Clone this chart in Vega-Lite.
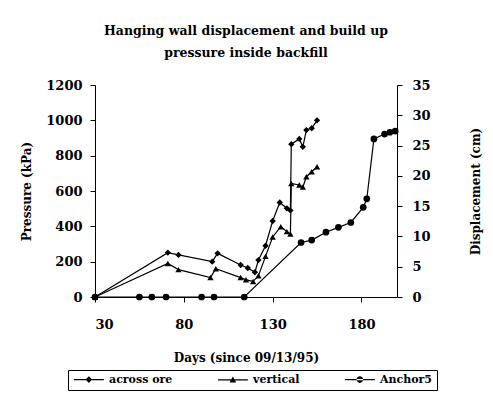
{
  "$schema": "https://vega.github.io/schema/vega-lite/v6.json",
  "width": 302,
  "height": 212,
  "autosize": {"type": "none"},
  "padding": {"left": 95, "top": 85, "right": 96, "bottom": 113},
  "background": "white",
  "config": {
    "view": {"stroke": null},
    "font": "DejaVu Serif",
    "axis": {
      "grid": false,
      "domainColor": "black",
      "tickColor": "black",
      "labelColor": "black",
      "titleColor": "black",
      "labelFont": "DejaVu Serif",
      "titleFont": "DejaVu Serif",
      "labelFontWeight": "bold",
      "titleFontWeight": "bold",
      "labelFontSize": 13,
      "titleFontSize": 12,
      "tickSize": 5,
      "format": "d"
    },
    "legend": {
      "labelFont": "DejaVu Serif",
      "labelFontWeight": "bold",
      "labelFontSize": 11,
      "labelColor": "black"
    }
  },
  "title": {
    "text": ["Hanging wall displacement and build up", "pressure inside backfill"],
    "font": "DejaVu Serif",
    "fontWeight": "bold",
    "fontSize": 12.5,
    "lineHeight": 22,
    "color": "black",
    "anchor": "middle",
    "offset": 20
  },
  "encoding": {
    "x": {
      "field": "day",
      "type": "quantitative",
      "scale": {"domain": [30, 200], "nice": false, "zero": false},
      "axis": {
        "title": "Days (since 09/13/95)",
        "values": [30, 80, 130, 180],
        "labelPadding": 16,
        "titlePadding": 21
      }
    }
  },
  "layer": [
    {
      "data": {
        "values": [
          {"series": "across ore", "day": 30, "kpa": 0},
          {"series": "across ore", "day": 71, "kpa": 251},
          {"series": "across ore", "day": 77, "kpa": 238},
          {"series": "across ore", "day": 96, "kpa": 200},
          {"series": "across ore", "day": 99, "kpa": 247},
          {"series": "across ore", "day": 112, "kpa": 181},
          {"series": "across ore", "day": 116, "kpa": 164},
          {"series": "across ore", "day": 120, "kpa": 140},
          {"series": "across ore", "day": 122, "kpa": 209},
          {"series": "across ore", "day": 126, "kpa": 290},
          {"series": "across ore", "day": 130, "kpa": 430},
          {"series": "across ore", "day": 134, "kpa": 535},
          {"series": "across ore", "day": 138, "kpa": 502},
          {"series": "across ore", "day": 140, "kpa": 490},
          {"series": "across ore", "day": 140.5, "kpa": 865},
          {"series": "across ore", "day": 145, "kpa": 895},
          {"series": "across ore", "day": 147, "kpa": 850},
          {"series": "across ore", "day": 149, "kpa": 945},
          {"series": "across ore", "day": 152, "kpa": 955},
          {"series": "across ore", "day": 155, "kpa": 1000},
          {"series": "vertical", "day": 30, "kpa": 0},
          {"series": "vertical", "day": 71, "kpa": 190},
          {"series": "vertical", "day": 77, "kpa": 155},
          {"series": "vertical", "day": 95, "kpa": 110},
          {"series": "vertical", "day": 98, "kpa": 160},
          {"series": "vertical", "day": 112, "kpa": 110},
          {"series": "vertical", "day": 115, "kpa": 97},
          {"series": "vertical", "day": 119, "kpa": 88},
          {"series": "vertical", "day": 122, "kpa": 120},
          {"series": "vertical", "day": 126, "kpa": 230},
          {"series": "vertical", "day": 130, "kpa": 340},
          {"series": "vertical", "day": 134.6, "kpa": 398},
          {"series": "vertical", "day": 138, "kpa": 370},
          {"series": "vertical", "day": 140, "kpa": 357},
          {"series": "vertical", "day": 140.5, "kpa": 643},
          {"series": "vertical", "day": 145, "kpa": 634},
          {"series": "vertical", "day": 147, "kpa": 622},
          {"series": "vertical", "day": 149, "kpa": 681},
          {"series": "vertical", "day": 152, "kpa": 709},
          {"series": "vertical", "day": 155, "kpa": 737}
        ]
      },
      "encoding": {
        "y": {
          "field": "kpa",
          "type": "quantitative",
          "scale": {"domain": [0, 1200], "nice": false},
          "axis": {
            "title": "Pressure (kPa)",
            "values": [0, 200, 400, 600, 800, 1000, 1200],
            "labelPadding": 8,
            "titlePadding": 12
          }
        }
      },
      "layer": [
        {
          "mark": {"type": "line", "color": "black", "strokeWidth": 1.2},
          "encoding": {"detail": {"field": "series"}}
        },
        {
          "mark": {"type": "point", "filled": true, "color": "black", "size": 40, "opacity": 1},
          "encoding": {
            "shape": {
              "field": "series",
              "type": "nominal",
              "scale": {"domain": ["across ore", "vertical"], "range": ["diamond", "triangle-up"]},
              "legend": null
            }
          }
        }
      ]
    },
    {
      "data": {
        "values": [
          {"series": "Anchor5", "day": 30, "cm": 0},
          {"series": "Anchor5", "day": 55, "cm": 0},
          {"series": "Anchor5", "day": 62, "cm": 0},
          {"series": "Anchor5", "day": 70, "cm": 0},
          {"series": "Anchor5", "day": 90, "cm": 0},
          {"series": "Anchor5", "day": 97, "cm": 0},
          {"series": "Anchor5", "day": 114, "cm": 0},
          {"series": "Anchor5", "day": 146, "cm": 9.0},
          {"series": "Anchor5", "day": 152, "cm": 9.4},
          {"series": "Anchor5", "day": 160, "cm": 10.7},
          {"series": "Anchor5", "day": 167, "cm": 11.5},
          {"series": "Anchor5", "day": 174, "cm": 12.3},
          {"series": "Anchor5", "day": 181, "cm": 14.8},
          {"series": "Anchor5", "day": 183, "cm": 16.2},
          {"series": "Anchor5", "day": 187, "cm": 26.1},
          {"series": "Anchor5", "day": 193, "cm": 26.9},
          {"series": "Anchor5", "day": 196, "cm": 27.2},
          {"series": "Anchor5", "day": 199, "cm": 27.4}
        ]
      },
      "encoding": {
        "y": {
          "field": "cm",
          "type": "quantitative",
          "scale": {"domain": [0, 35], "nice": false},
          "axis": {
            "orient": "right",
            "title": "Displacement (cm)",
            "titleAngle": 270,
            "values": [0, 5, 10, 15, 20, 25, 30, 35],
            "labelPadding": 10,
            "titlePadding": 52
          }
        }
      },
      "layer": [
        {
          "mark": {"type": "line", "color": "black", "strokeWidth": 1.2},
          "encoding": {"detail": {"field": "series"}}
        },
        {
          "mark": {"type": "point", "shape": "circle", "filled": true, "color": "black", "size": 45, "opacity": 1}
        }
      ]
    },
    {
      "data": {"values": []},
      "mark": {"type": "point", "filled": true, "color": "black", "opacity": 1},
      "encoding": {
        "shape": {
          "field": "series",
          "type": "nominal",
          "scale": {
            "domain": ["across ore", "vertical", "Anchor5"],
            "range": [
              "M-1.2,-0.2H8.8V0.2H-1.2ZM3.8,-1.1L4.9,0L3.8,1.1L2.7,0Z",
              "M-1.2,-0.2H8.8V0.2H-1.2ZM3.8,-1.1L4.9,0.9L2.7,0.9Z",
              "M-1.2,-0.2H8.8V0.2H-1.2ZM2.7,0A1.1,1.1 0 1,0 4.9,0A1.1,1.1 0 1,0 2.7,0Z"
            ]
          },
          "legend": {
            "title": null,
            "orient": "none",
            "legendX": -27,
            "legendY": 285,
            "direction": "horizontal",
            "strokeColor": "black",
            "padding": 4,
            "symbolSize": 36,
            "labelOffset": 26,
            "columnPadding": 41,
            "symbolFillColor": "black"
          }
        }
      }
    }
  ],
  "resolve": {"scale": {"y": "independent", "shape": "independent"}}
}
